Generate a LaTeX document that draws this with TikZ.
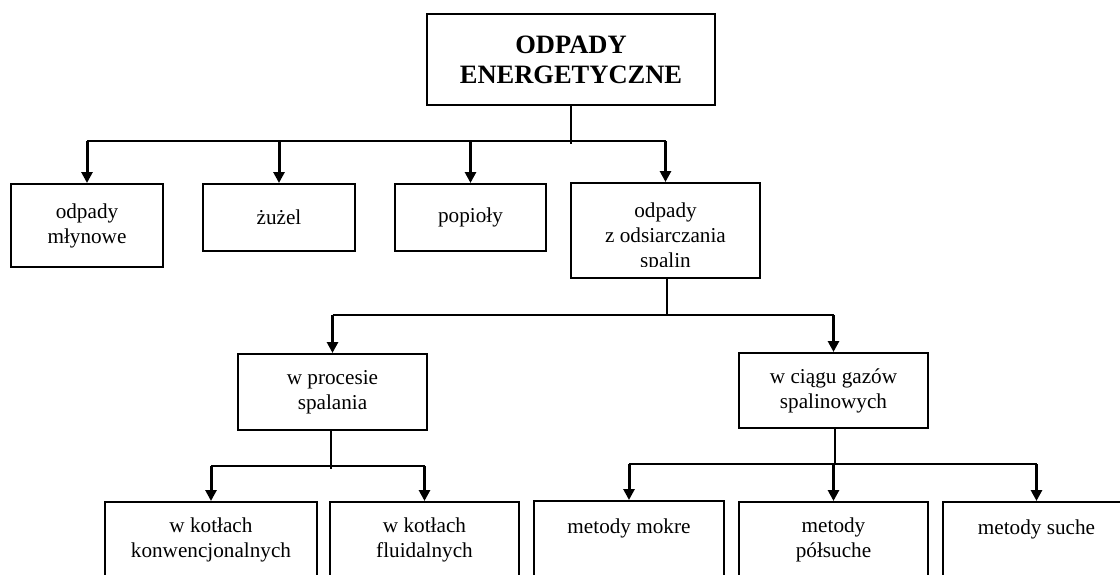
\documentclass[tikz,border=0pt]{standalone}
\usepackage{fontspec}
\setmainfont{Liberation Serif}
\usetikzlibrary{arrows.meta}

\begin{document}
\begin{tikzpicture}[x=0.5pt, y=-0.5pt, >={Triangle[length=5.5pt,width=5.5pt]},
 box/.style={draw, line width=1pt, inner sep=0pt, align=center, font=\fontsize{10.6}{12.5}\selectfont},
 conn/.style={line width=1pt},
 arr/.style={line width=1.5pt, ->}]
\clip (0,0) rectangle (1120,574);
\node[box, minimum width=144pt, minimum height=45.5pt, font=\fontsize{13.25}{15}\selectfont\bfseries] (top) at (571,59.5) {ODPADY\\ENERGETYCZNE};
\node[box, minimum width=76pt, minimum height=41.5pt] (mlyn) at (87,225.5) {odpady\\młynowe};
\node[box, minimum width=76pt, minimum height=33.5pt] (zuzel) at (279,217.5) {żużel};
\node[box, minimum width=75.5pt, minimum height=33.5pt] (popioly) at (470.5,217.5) {popioły};
\node[box, minimum width=94.5pt, minimum height=47.5pt] (odsi) at (665.5,230.5) {};
\begin{scope}
\clip (571,183) rectangle (760,266);
\node[align=center, inner sep=0pt, font=\fontsize{10.6}{12.5}\selectfont] (odsitxt) at (665.5,237) {odpady\\z odsiarczania\\spalin};
\end{scope}
\node[box, minimum width=94.5pt, minimum height=38pt] (proc) at (332.5,392) {w procesie\\spalania};
\node[box, minimum width=94.5pt, minimum height=37.5pt] (ciag) at (833.5,390.5) {w ciągu gazów\\spalinowych};
\node[box, minimum width=106pt, minimum height=37.5pt] (konw) at (211,539.5) {w kotłach\\konwencjonalnych};
\node[box, minimum width=94.5pt, minimum height=37.5pt] (flui) at (424.5,539.5) {w kotłach\\fluidalnych};
\node[box, minimum width=95pt, minimum height=37.5pt] (mokre) at (629,538.5) {metody mokre\\~};
\node[box, minimum width=94.5pt, minimum height=37.5pt] (pols) at (833.5,539.5) {metody\\półsuche};
\node[box, minimum width=93.5pt, minimum height=37.5pt] (suche) at (1036.5,539.5) {metody suche\\~};

\coordinate (b1) at (571,141);
\coordinate (b2) at (667,315);
\coordinate (b3) at (331,466);
\coordinate (b4) at (835,464);
\draw[conn] (b1 |- top.south) -- ([yshift=-1.5pt]b1);
\draw[conn] (mlyn.north |- b1) -- (odsi.north |- b1);
\foreach \n in {mlyn,zuzel,popioly,odsi}
 \draw[arr] (\n.north |- b1) -- (\n.north);
\draw[conn] (b2 |- odsi.south) -- (b2);
\draw[conn] (proc.north |- b2) -- (ciag.north |- b2);
\foreach \n in {proc,ciag}
 \draw[arr] (\n.north |- b2) -- (\n.north);
\draw[conn] (b3 |- proc.south) -- ([yshift=-1.5pt]b3);
\draw[conn] (konw.north |- b3) -- (flui.north |- b3);
\foreach \n in {konw,flui}
 \draw[arr] (\n.north |- b3) -- (\n.north);
\draw[conn] (b4 |- ciag.south) -- (b4);
\draw[conn] (mokre.north |- b4) -- (suche.north |- b4);
\foreach \n in {mokre,pols,suche}
 \draw[arr] (\n.north |- b4) -- (\n.north);
\end{tikzpicture}
\end{document}
